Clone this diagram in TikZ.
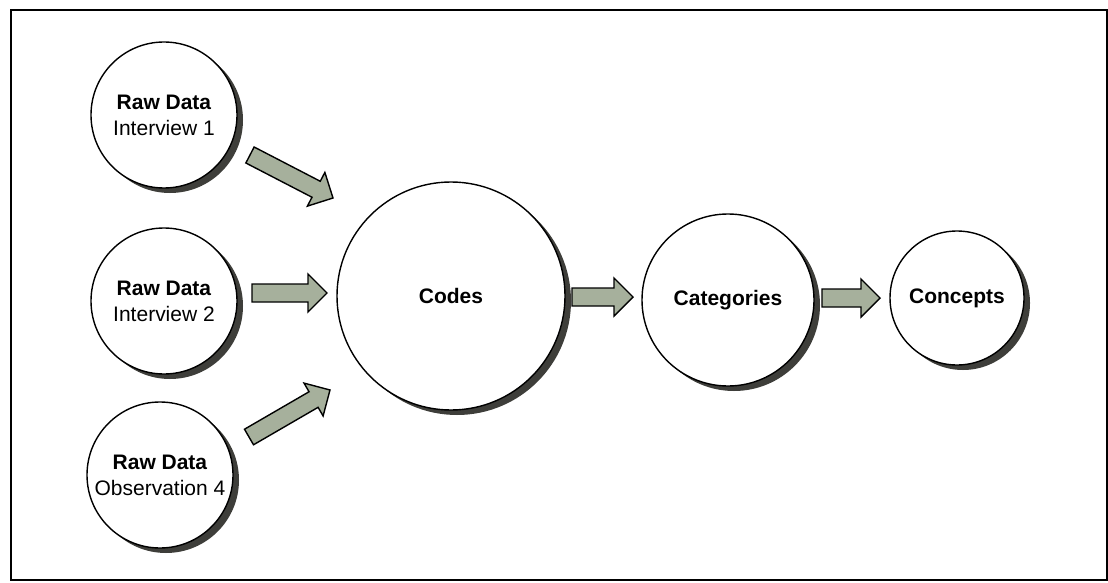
\documentclass[tikz,border=0pt]{standalone}
\usepackage{fontspec}
\setmainfont{Liberation Sans}
\usetikzlibrary{calc}
\definecolor{arrowgreen}{RGB}{166,176,156}
\definecolor{shadowgray}{RGB}{62,62,58}
\tikzset{
  bubble/.style={circle,draw,fill=white,line width=1.4,align=center,inner sep=0,
    font=\fontsize{21}{26}\selectfont},
  arrowbody/.style={draw,fill=arrowgreen,line width=1.4,line join=miter},
}
% fat block arrow from #1 to #2
\newcommand{\blockarrow}[2]{%
  \coordinate (hb) at ($(#2)!19pt!(#1)$);
  \draw[arrowbody] ($(#1)!9pt!-90:(#2)$) -- ($(hb)!9pt!90:(#1)$)
    -- ($(hb)!19pt!90:(#1)$) -- (#2) -- ($(hb)!19pt!-90:(#1)$)
    -- ($(hb)!9pt!-90:(#1)$) -- ($(#1)!9pt!90:(#2)$) -- cycle;}
\begin{document}
\begin{tikzpicture}[line width=1.2,x=1pt,y=-1pt]
			\useasboundingbox (0,0) rectangle (1108,583);
			\draw[fill=white,line width=1.5] (11,10) rectangle (1107,580);
			% shadows under the circles
			\foreach \cx/\cy/\rr in {164/115/73,164/301/73,160/475/73,451/296/114,728/300/86,957/298/67}
				\fill[shadowgray] (\cx+6,\cy+5) circle (\rr);
			\node[bubble,minimum size=146] (raw1) at (164,115) {\textbf{Raw Data}\\Interview 1};
			\node[bubble,minimum size=146] (raw2) at (164,301) {\textbf{Raw Data}\\Interview 2};
			\node[bubble,minimum size=146] (raw3) at (160,475) {\textbf{Raw Data}\\Observation 4};
			\node[bubble,minimum size=228] (codes) at (451,296) {\textbf{Codes}};
			\node[bubble,minimum size=172] (categories) at (728,300) {\textbf{Categories}};
			\node[bubble,minimum size=134] (concepts) at (957,298) {\textbf{Concepts}};
			\coordinate (a1s) at (250,155);
			\coordinate (a1e) at (333,198);
			\coordinate (a2s) at (252,293);
			\coordinate (a2e) at (327,293);
			\coordinate (a3s) at (249,437);
			\coordinate (a3e) at (330,390);
			\coordinate (a4s) at (572,297);
			\coordinate (a4e) at (633,297);
			\coordinate (a5s) at (822,298);
			\coordinate (a5e) at (880,298);
			\blockarrow{a1s}{a1e}
			\blockarrow{a2s}{a2e}
			\blockarrow{a3s}{a3e}
			\blockarrow{a4s}{a4e}
			\blockarrow{a5s}{a5e}
		\end{tikzpicture}
\end{document}
